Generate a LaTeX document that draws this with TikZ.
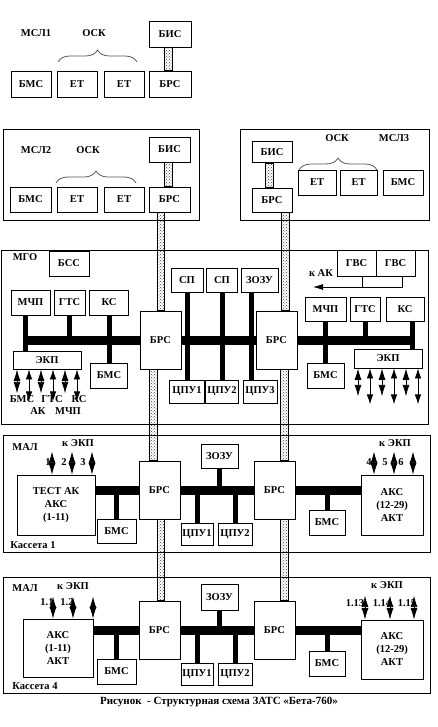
\documentclass[tikz,border=0pt]{standalone}
\usepackage{fontspec}
\setmainfont{Liberation Serif}
\usetikzlibrary{arrows.meta, patterns, decorations.pathreplacing, calc}

\begin{document}
\begin{tikzpicture}[x=1pt, y=-1pt,
    blk/.style={draw, line width=0.8pt, fill=white, inner sep=1pt, font=\fontsize{10.5}{13}\bfseries, align=center},
    lbl/.style={font=\fontsize{10.5}{12}\bfseries, inner sep=0pt},
    frame/.style={draw, line width=0.8pt},
    bus/.style={line width=9pt},
    stub/.style={line width=5pt},
    chan/.style={draw, line width=0.5pt, pattern=crosshatch dots, pattern color=black!75},
    osk/.style={decorate, decoration={brace, amplitude=12pt}, draw=black!65, line width=0.8pt},
    diam/.style={{Latex[length=11.5pt,width=7pt]}-{Latex[length=11.5pt,width=7pt]}, line width=0.8pt},
    dbl/.style={{Latex[length=10pt,width=6.5pt]}-{Latex[length=10pt,width=6.5pt]}, line width=0.8pt}]
    \useasboundingbox (0,0) rectangle (438,727);

    % MSL1 (no frame)
    \node[lbl] (msl1) at (36,33) {МСЛ1};
    \node[lbl] (osk1) at (94,33) {ОСК};
    \draw[osk] (58,62) -- (137,62);
    \node[blk, minimum width=40, minimum height=26] (bms0) at (31,84) {БМС};
    \node[blk, minimum width=40, minimum height=26] (et01) at (77,84) {ЕТ};
    \node[blk, minimum width=40, minimum height=26] (et02) at (124,84) {ЕТ};
    \node[blk, minimum width=42, minimum height=26] (bis0) at (170,34) {БИС};
    \node[blk, minimum width=42, minimum height=26] (brs0) at (170,84) {БРС};
    \draw[chan] ([xshift=-6]bis0.south) rectangle ([xshift=2]brs0.north);

    % MSL2
    \draw[frame] (3,129) rectangle (199,220);
    \node[lbl] (msl2) at (36,150) {МСЛ2};
    \node[lbl] (osk2) at (88,150) {ОСК};
    \draw[osk] (56,183) -- (136,183);
    \node[blk, minimum width=41, minimum height=25] (bmsA) at (30.5,199.5) {БМС};
    \node[blk, minimum width=40, minimum height=25] (etA1) at (77,199.5) {ЕТ};
    \node[blk, minimum width=40, minimum height=25] (etA2) at (124,199.5) {ЕТ};
    \node[blk, minimum width=41, minimum height=25] (bisA) at (169.5,149.5) {БИС};
    \node[blk, minimum width=41, minimum height=25] (brsA) at (169.5,199.5) {БРС};
    \draw[chan] ([xshift=-5.5]bisA.south) rectangle ([xshift=2.5]brsA.north);

    % MSL3
    \draw[frame] (240,129) rectangle (429,220);
    \node[lbl] (osk3) at (337,138) {ОСК};
    \node[lbl] (msl3) at (394,138) {МСЛ3};
    \draw[osk] (299,170) -- (377,170);
    \node[blk, minimum width=40, minimum height=21] (bisB) at (272,152) {БИС};
    \node[blk, minimum width=40, minimum height=24] (brsB) at (272,200) {БРС};
    \node[blk, minimum width=38, minimum height=25] (etB1) at (317,182.5) {ЕТ};
    \node[blk, minimum width=37, minimum height=25] (etB2) at (358.5,182.5) {ЕТ};
    \node[blk, minimum width=40, minimum height=25] (bmsB) at (403,182.5) {БМС};
    \draw[chan] ([xshift=-7]bisB.south) rectangle ([xshift=1]brsB.north);

    % MGO
    \draw[frame] (1,250) rectangle (428,424);
    \node[lbl] (mgo) at (25,257) {МГО};
    \node[blk, minimum width=40, minimum height=25] (bss) at (69,263.5) {БСС};
    \node[blk, minimum width=39, minimum height=25] (mchp1) at (30.5,302.5) {МЧП};
    \node[blk, minimum width=31, minimum height=25] (gts1) at (69.5,302.5) {ГТС};
    \node[blk, minimum width=39, minimum height=25] (ks1) at (109,302.5) {КС};
    \node[blk, minimum width=68, minimum height=18] (ekp1) at (47,360) {ЭКП};
    \node[blk, minimum width=37, minimum height=25] (bms1) at (109,375.5) {БМС};
    \node[blk, minimum width=41, minimum height=58] (brs1) at (160.5,340) {БРС};
    \node[blk, minimum width=32, minimum height=24] (sp1) at (187,280) {СП};
    \node[blk, minimum width=31, minimum height=24] (sp2) at (222,280) {СП};
    \node[blk, minimum width=37, minimum height=24] (zozu1) at (259.5,280) {ЗОЗУ};
    \node[blk, minimum width=35, minimum height=23] (cpu1) at (187,391.5) {ЦПУ1};
    \node[blk, minimum width=33, minimum height=23] (cpu2) at (222,391.5) {ЦПУ2};
    \node[blk, minimum width=34, minimum height=23] (cpu3) at (260,391.5) {ЦПУ3};
    \node[blk, minimum width=41, minimum height=58] (brs2) at (276.5,340) {БРС};
    \node[blk, minimum width=39, minimum height=26] (gvs1) at (356.5,263) {ГВС};
    \node[blk, minimum width=39, minimum height=26] (gvs2) at (395.5,263) {ГВС};
    \node[blk, minimum width=41, minimum height=24] (mchp2) at (325.5,309) {МЧП};
    \node[blk, minimum width=30, minimum height=24] (gts2) at (365,309) {ГТС};
    \node[blk, minimum width=38, minimum height=24] (ks2) at (405,309) {КС};
    \node[blk, minimum width=68, minimum height=19] (ekp2) at (388,358.5) {ЭКП};
    \node[blk, minimum width=37, minimum height=25] (bms2) at (325.5,375.5) {БМС};

    \coordinate (mchp1s) at ([xshift=-5.5]mchp1.south);
    \coordinate (zozu1s) at ([xshift=-8]zozu1.south);
    \coordinate (ks2s) at ([xshift=7]ks2.south);
    \draw[bus] (mchp1s |- brs1.west) -- (brs1.west);
    \draw[bus] (brs1.east) -- (brs2.west);
    \draw[bus] (brs2.east) -- (ks2s |- brs2.east);
    \draw[stub] (mchp1s) -- (mchp1s |- ekp1.north);
    \draw[stub] (gts1.south) -- (gts1.south |- brs1.west);
    \draw[stub] (ks1.south) -- (bms1.north);
    \draw[stub] (sp1.south) -- (cpu1.north);
    \draw[stub] (sp2.south) -- (cpu2.north);
    \draw[stub] (zozu1s) -- (zozu1s |- cpu3.north);
    \draw[stub] (mchp2.south) -- (bms2.north);
    \draw[stub] (gts2.south) -- (gts2.south |- brs2.east);
    \draw[stub] (ks2s) -- (ks2s |- ekp2.north);

    % GVS to AK
    \coordinate (gvs1s) at ([xshift=5.5]gvs1.south);
    \coordinate (gvs2s) at ([xshift=6.5]gvs2.south);
    \coordinate (kak) at (313,287);
    \draw[line width=0.8pt] (gvs1s) -- (gvs1s |- kak);
    \draw[line width=0.8pt, -{Latex[length=10pt,width=6pt]}] (gvs2s) |- (kak);
    \node[lbl] (kak-t) at (321,273) {к АК};

    % EKP lines
    \foreach \dx/\st/\len in {-30/diam/24, -18/dbl/32, -6/diam/24, 6/dbl/32, 18/diam/24, 30/dbl/32}{
        \draw[\st] ([xshift=\dx]ekp1.south) -- ++(0,\len);
        \draw[\st] ([xshift=\dx]ekp2.south) -- ++(0,\len+4);
    }
    \node[lbl] (e-bms) at (22,399) {БМС};
    \node[lbl] (e-gts) at (52,399) {ГТС};
    \node[lbl] (e-ks) at (79,399) {КС};
    \node[lbl] (e-ak) at (38,411) {АК};
    \node[lbl] (e-mchp) at (68,411) {МЧП};

    % MAL, Kasseta 1
    \draw[frame] (3,435) rectangle (430,552);
    \node[lbl] (mal1) at (25,447) {МАЛ};
    \node[lbl] (kekp1) at (78,443) {к ЭКП};
    \node[lbl] (kekp2) at (395,443) {к ЭКП};
    \node[blk, minimum width=78, minimum height=60] (test1) at (56,505) {ТЕСТ АК\\АКС\\(1-11)};
    \node[blk, minimum width=39, minimum height=24] (bms5) at (116.5,531) {БМС};
    \node[blk, minimum width=41, minimum height=58] (brs5) at (159.5,490) {БРС};
    \node[blk, minimum width=37, minimum height=24] (zozu5) at (219.5,456) {ЗОЗУ};
    \node[blk, minimum width=32, minimum height=22] (cpu51) at (197,534) {ЦПУ1};
    \node[blk, minimum width=34, minimum height=22] (cpu52) at (235,534) {ЦПУ2};
    \node[blk, minimum width=41, minimum height=58] (brs6) at (274.5,490) {БРС};
    \node[blk, minimum width=36, minimum height=25] (bms6) at (327,522.5) {БМС};
    \node[blk, minimum width=62, minimum height=60] (aks6) at (392,505) {АКС\\(12-29)\\АКТ};
    \node[lbl] (kas1) at (33,545) {Кассета 1};

    \draw[bus] (test1.east |- brs5.west) -- (brs5.west);
    \draw[bus] (brs5.east) -- (brs6.west);
    \draw[bus] (brs6.east) -- (aks6.west |- brs6.east);
    \draw[stub] (bms5.north) -- (bms5.north |- brs5.west);
    \draw[stub] (zozu5.south) -- (zozu5.south |- brs5.east);
    \draw[stub] (cpu51.north) -- (cpu51.north |- brs5.east);
    \draw[stub] (cpu52.north) -- (cpu52.north |- brs5.east);
    \draw[stub] (bms6.north) -- (bms6.north |- brs6.east);

    \foreach \dx in {-4,16,36} \draw[diam] ([xshift=\dx]test1.north) -- ++(0,-23);
    \foreach \dx in {-18,2,21} \draw[diam] ([xshift=\dx]aks6.north) -- ++(0,-23);
    \node[lbl] (n1) at (48,462) {1};
    \node[lbl] (n2) at (64,462) {2};
    \node[lbl] (n3) at (83,462) {3};
    \node[lbl] (n4) at (369,462) {4};
    \node[lbl] (n5) at (385,462) {5};
    \node[lbl] (n6) at (401,462) {6};

    % MAL, Kasseta 4
    \draw[frame] (3,577) rectangle (430,693);
    \node[lbl] (mal4) at (25,588) {МАЛ};
    \node[lbl] (kekp3) at (73,586) {к ЭКП};
    \node[lbl] (kekp4) at (387,585) {к ЭКП};
    \node[blk, minimum width=70, minimum height=58] (aks7) at (58,648) {АКС\\(1-11)\\АКТ};
    \node[blk, minimum width=39, minimum height=25] (bms7) at (116.5,671.5) {БМС};
    \node[blk, minimum width=41, minimum height=58] (brs7) at (159.5,630) {БРС};
    \node[blk, minimum width=37, minimum height=26] (zozu7) at (219.5,597) {ЗОЗУ};
    \node[blk, minimum width=32, minimum height=22] (cpu71) at (197,674) {ЦПУ1};
    \node[blk, minimum width=34, minimum height=22] (cpu72) at (235,674) {ЦПУ2};
    \node[blk, minimum width=41, minimum height=58] (brs8) at (274.5,630) {БРС};
    \node[blk, minimum width=36, minimum height=25] (bms8) at (327,663.5) {БМС};
    \node[blk, minimum width=62, minimum height=59] (aks8) at (392,649.5) {АКС\\(12-29)\\АКТ};
    \node[lbl] (kas4) at (35,686) {Кассета 4};

    \draw[bus] (aks7.east |- brs7.west) -- (brs7.west);
    \draw[bus] (brs7.east) -- (brs8.west);
    \draw[bus] (brs8.east) -- (aks8.west |- brs8.east);
    \draw[stub] (bms7.north) -- (bms7.north |- brs7.west);
    \draw[stub] (zozu7.south) -- (zozu7.south |- brs7.east);
    \draw[stub] (cpu71.north) -- (cpu71.north |- brs7.east);
    \draw[stub] (cpu72.north) -- (cpu72.north |- brs7.east);
    \draw[stub] (bms8.north) -- (bms8.north |- brs8.east);

    \foreach \dx in {-5,15,35} \draw[diam] ([xshift=\dx]aks7.north) -- ++(0,-22);
    \foreach \dx in {-27,-2,22} \draw[diam] ([xshift=\dx]aks8.north) -- ++(0,-24);
    \node[lbl] (n11) at (47,602) {1.1};
    \node[lbl] (n12) at (67,602) {1.2};
    \node[lbl] (n113) at (355,603) {1.13};
    \node[lbl] (n114) at (382,603) {1.14};
    \node[lbl] (n115) at (407,603) {1.15};

    % Channels between BRS
    \draw[chan] ([xshift=-12.5]brsA.south) rectangle ([xshift=4]brs1.north);
    \draw[chan] ([xshift=-11.5]brs1.south) rectangle ([xshift=-2.5]brs5.north);
    \draw[chan] ([xshift=-2.5]brs5.south) rectangle ([xshift=4.5]brs7.north);
    \draw[chan] ([xshift=9]brsB.south) rectangle ([xshift=12.5]brs2.north);
    \draw[chan] ([xshift=4]brs2.south) rectangle ([xshift=13.5]brs6.north);
    \draw[chan] ([xshift=6]brs6.south) rectangle ([xshift=13.5]brs8.north);

    % Caption
    \node[lbl, font=\fontsize{11}{13}\bfseries] (cap) at (219,702) {Рисунок\ \ - Структурная схема ЗАТС «Бета-760»};
\end{tikzpicture}
\end{document}
